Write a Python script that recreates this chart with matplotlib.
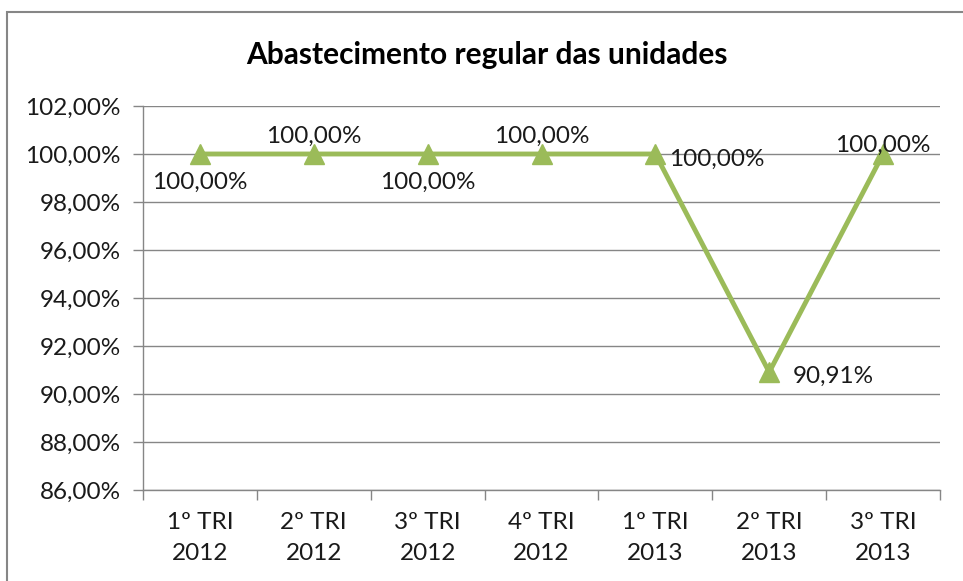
import matplotlib
matplotlib.use("Agg")
import matplotlib.pyplot as plt
from matplotlib.patches import Rectangle

categories = ["1º TRI\n2012", "2º TRI\n2012", "3º TRI\n2012", "4º TRI\n2012",
              "1º TRI\n2013", "2º TRI\n2013", "3º TRI\n2013"]
values = [100.00, 100.00, 100.00, 100.00, 100.00, 90.91, 100.00]
label_pos = ["below", "above", "below", "above", "right", "right2", "above2"]
yticks = [86, 88, 90, 92, 94, 96, 98, 100, 102]
title = "Abastecimento regular das unidades"

plt.rcParams["font.family"] = ["Lato", "DejaVu Sans"]

def fmt(v):
    return f"{v:.2f}".replace(".", ",") + "%"

fig = plt.figure(figsize=(9.63, 5.81), dpi=100)
fig.patches.append(Rectangle((7/963, -0.1), 1.2, 1 - 12/581 + 0.1, transform=fig.transFigure,
                             fill=False, edgecolor="#868686", linewidth=1.5))
ax = fig.add_axes([143/963, 1 - 490/581, 797/963, 384/581])

x = list(range(len(categories)))
ax.plot(x, values, color="#9BBB59", linewidth=3.5, marker="^", markersize=14,
        markeredgecolor="#9BBB59", markerfacecolor="#9BBB59", zorder=3, clip_on=False)

tc = "#1a1a1a"
fs = 17.5
offsets = {
    "below": ((0, -13), "center", "top"),
    "above": ((0, 5), "center", "bottom"),
    "above2": ((0, -1), "center", "bottom"),
    "right": ((10, -4), "left", "center"),
    "right2": ((17, -3), "left", "center"),
}
for xi, v, p in zip(x, values, label_pos):
    off, ha, va = offsets[p]
    ax.annotate(fmt(v), (xi, v), xytext=off, textcoords="offset points",
                ha=ha, va=va, fontsize=fs, color=tc)

ax.set_xlim(-0.5, len(categories) - 0.5)
ax.set_ylim(86, 102)
ax.set_yticks(yticks)
ax.set_yticklabels([fmt(t) for t in yticks], fontsize=fs, color=tc)
ax.set_xticks(x)
ax.set_xticklabels(categories, fontsize=fs, linespacing=1.55, color=tc)
ax.set_xticks([i + 0.5 for i in range(-1, len(categories))], minor=True)
ax.tick_params(axis="x", which="major", length=0, pad=16)
ax.tick_params(axis="x", which="minor", length=7, color="#868686", width=1)
ax.tick_params(axis="y", length=7, color="#868686", width=1, pad=9)
ax.yaxis.grid(True, color="#868686", linewidth=1)
ax.set_axisbelow(True)
for s in ["top", "right"]:
    ax.spines[s].set_visible(False)
for s in ["left", "bottom"]:
    ax.spines[s].set_color("#868686")
    ax.spines[s].set_linewidth(1)

fig.text(487/963, 1 - 55/581, title, ha="center", va="center", fontsize=21.5, fontweight="bold")

fig.savefig("out.png", dpi=100, facecolor="white")
